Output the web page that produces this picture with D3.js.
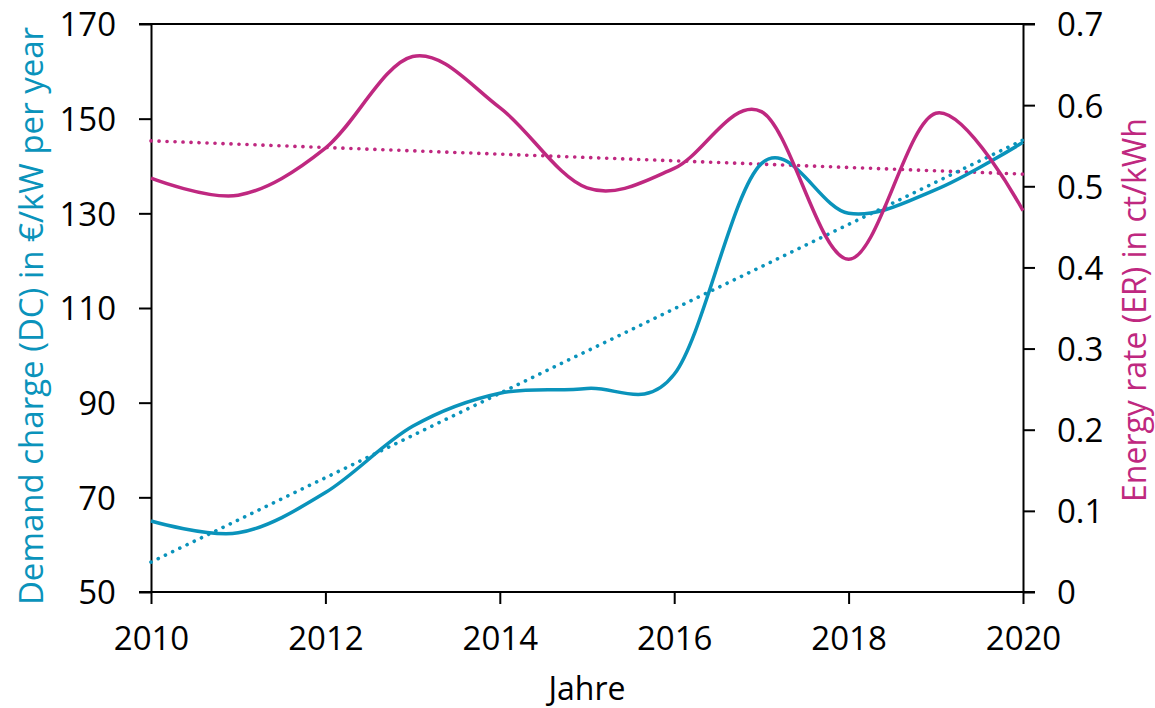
<!DOCTYPE html>
<html>
<head>
<meta charset="utf-8">
<script src="https://cdn.jsdelivr.net/npm/d3@7"></script>
<style>
  body { margin: 0; background: #fff; }
  svg text { font-family: "Open Sans", sans-serif; }
</style>
</head>
<body>
<svg id="chart" width="1155" height="708"></svg>
<script>
// Werte
var years = [2010, 2011, 2012, 2013, 2014, 2015, 2016, 2017, 2018, 2019, 2020];
var demandCharge = [65, 62.5, 71, 85, 92, 93, 96, 140.5, 130, 135, 145];          // €/kW per year
var energyRate = [0.51, 0.489, 0.547, 0.66, 0.597, 0.498, 0.522, 0.592, 0.41, 0.59, 0.47]; // ct/kWh
// Trendlinien (Endpunkte)
var dcTrendYears = [2010, 2020];
var dcTrend = [56.3, 145.5];
var erTrendYears = [2010, 2020];
var erTrend = [0.556, 0.515];

var xTicks = [2010, 2012, 2014, 2016, 2018, 2020];
var leftTicks = [50, 70, 90, 110, 130, 150, 170];
var rightTicks = [0, 0.1, 0.2, 0.3, 0.4, 0.5, 0.6, 0.7];

var BLUE = "#0a93bb", PINK = "#bf2880";

var svg = d3.select("#chart");
var m = {left: 151, right: 1023, top: 24, bottom: 592};

var x = d3.scaleLinear().domain([2010, 2020]).range([m.left, m.right]);
var yL = d3.scaleLinear().domain([50, 170]).range([m.bottom, m.top]);
var yR = d3.scaleLinear().domain([0, 0.7]).range([m.bottom, m.top]);

// Rahmenlinie oben
svg.append("line").attr("x1", m.left - 12).attr("x2", m.right + 12)
    .attr("y1", m.top).attr("y2", m.top)
    .attr("stroke", "#000").attr("stroke-width", 2);

var gx = svg.append("g").attr("transform", "translate(0," + m.bottom + ")")
    .call(d3.axisBottom(x).tickValues(xTicks).tickFormat(d3.format("d")).tickSize(12).tickSizeOuter(0));
var gl = svg.append("g").attr("transform", "translate(" + m.left + ",0)")
    .call(d3.axisLeft(yL).tickValues(leftTicks).tickSize(12).tickSizeOuter(0));
var gr = svg.append("g").attr("transform", "translate(" + m.right + ",0)")
    .call(d3.axisRight(yR).tickValues(rightTicks).tickFormat(d3.format("")).tickSize(12).tickSizeOuter(0));

[gx, gl, gr].forEach(function(g) {
    g.select(".domain").attr("stroke", "#000").attr("stroke-width", 2);
    g.selectAll(".tick line").attr("stroke", "#000").attr("stroke-width", 2);
    g.selectAll(".tick text").attr("fill", "#000").style("font-size", "33px");
});
// x-Achse über die ganze Breite (inkl. Tickbereich)
gx.select(".domain").attr("d", "M" + (m.left - 12) + ",0H" + (m.right + 12));
gx.selectAll(".tick text").attr("y", 35).attr("dy", "0.71em");
gl.selectAll(".tick text").attr("x", -35).attr("dy", "0.36em");
gr.selectAll(".tick text").attr("x", 34).attr("dy", "0.36em");

var line = function(yScale) {
    return d3.line()
        .x(function(d) { return x(d[0]); })
        .y(function(d) { return yScale(d[1]); })
        .curve(d3.curveCatmullRom.alpha(0));
};
var straight = function(yScale) {
    return d3.line()
        .x(function(d) { return x(d[0]); })
        .y(function(d) { return yScale(d[1]); });
};

// Trendlinien
svg.append("path").datum(d3.zip(erTrendYears, erTrend))
    .attr("d", straight(yR)).attr("fill", "none")
    .attr("stroke", PINK).attr("stroke-width", 3.6)
    .attr("stroke-linecap", "round").attr("stroke-dasharray", "0.1 7.9");
svg.append("path").datum(d3.zip(dcTrendYears, dcTrend))
    .attr("d", straight(yL)).attr("fill", "none")
    .attr("stroke", BLUE).attr("stroke-width", 3.6)
    .attr("stroke-linecap", "round").attr("stroke-dasharray", "0.1 7.9");

// Kurven
svg.append("path").datum(d3.zip(years, demandCharge))
    .attr("d", line(yL)).attr("fill", "none")
    .attr("stroke", BLUE).attr("stroke-width", 3.5);
svg.append("path").datum(d3.zip(years, energyRate))
    .attr("d", line(yR)).attr("fill", "none")
    .attr("stroke", PINK).attr("stroke-width", 3.5);

// Achsentitel
svg.append("text").attr("x", 587).attr("y", 700)
    .attr("text-anchor", "middle").style("font-size", "32px").attr("fill", "#000")
    .text("Jahre");
svg.append("text").attr("transform", "translate(43,316) rotate(-90)")
    .attr("text-anchor", "middle").style("font-size", "33px").attr("fill", BLUE)
    .text("Demand charge (DC) in €/kW per year");
svg.append("text").attr("transform", "translate(1146,310) rotate(-90)")
    .attr("text-anchor", "middle").style("font-size", "32px").attr("fill", PINK)
    .text("Energy rate (ER) in ct/kWh");
</script>
</body>
</html>
